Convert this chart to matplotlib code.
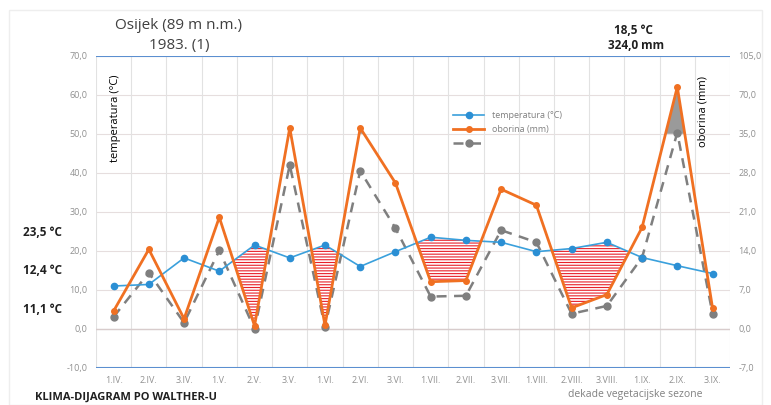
# Klima-dijagram po Walter-u, Osijek 1983. (dekade vegetacijske sezone)
import numpy as np
import matplotlib.pyplot as plt
from matplotlib.patches import Rectangle

plt.rcParams['font.family'] = ['Open Sans', 'DejaVu Sans']
plt.rcParams['hatch.color'] = '#e8202a'
plt.rcParams['hatch.linewidth'] = 0.8

# podaci ===============================================
dekade = ['1.IV.', '2.IV.', '3.IV.', '1.V.', '2.V.', '3.V.', '1.VI.', '2.VI.', '3.VI.',
          '1.VII.', '2.VII.', '3.VII.', '1.VIII.', '2.VIII.', '3.VIII.', '1.IX.', '2.IX.', '3.IX.']
temperatura = [11.0, 11.4, 18.2, 14.8, 21.5, 18.2, 21.5, 16.0, 19.8,
               23.5, 22.7, 22.2, 19.8, 20.6, 22.2, 18.3, 16.2, 14.2]
oborina = [4.6, 20.4, 2.6, 28.6, 0.8, 51.5, 0.9, 51.5, 37.4,
           12.1, 12.4, 35.8, 31.7, 5.4, 8.8, 26.0, 62.0, 5.4]
oborina2 = [3.1, 14.4, 1.6, 20.1, 0.0, 42.0, 0.5, 40.5, 25.8,
            8.3, 8.5, 25.3, 22.2, 3.9, 5.9, 18.3, 50.3, 3.9]

lijevo_ticks = [-10, 0, 10, 20, 30, 40, 50, 60, 70]
desno_labels = ['-7,0', '0,0', '7,0', '14,0', '21,0', '28,0', '35,0', '70,0', '105,0']

# graf =================================================
fig = plt.figure(figsize=(7.71, 4.05), dpi=100)
ax = fig.add_axes([0.1245, 0.0914, 0.8225, 0.771])
x = np.arange(len(dekade))

ax.set_xlim(-0.5, len(dekade) - 0.5)
ax.set_ylim(-10, 70)

# mreza
for yy in lijevo_ticks:
    ax.axhline(yy, color='#e6dede', lw=0.8, zorder=0)
for xx in np.arange(-0.5, len(dekade), 1):
    ax.axvline(xx, color='#e2e2e2', lw=0.8, zorder=0)
ax.axhline(0, color='#d8cccc', lw=1.0, zorder=0)
ax.axhline(70, color='#5b8fd0', lw=1.5, zorder=1)
ax.axhline(-10, color='#5b8fd0', lw=1.5, zorder=1)

# sušno razdoblje (crveno šrafirano)
xs = np.linspace(0, len(dekade) - 1, 1701)
ts = np.interp(xs, x, temperatura)
ps = np.interp(xs, x, oborina)
suho = (ts > ps) & (xs >= 3) & (xs <= 16)
ax.fill_between(xs, ps, ts, where=suho, facecolor='white', edgecolor='#e8202a',
                hatch='------', lw=0, zorder=2)

# perhumidno razdoblje (sivo)
ax.fill_between(xs, 50, ps, where=ps > 50, color='#9a9a9a', lw=0, zorder=2)

ax.plot(x, oborina2, color='#7f7f7f', ls=(0, (4, 3)), lw=1.8, marker='o', ms=5,
        zorder=3, label=' ')
ax.plot(x, temperatura, color='#3aa0dc', lw=1.2, marker='o', ms=4.5,
        markerfacecolor='#2b8fd4', markeredgecolor='#2b8fd4', zorder=4,
        label='temperatura (°C)')
ax.plot(x, oborina, color='#f07022', lw=2.0, marker='o', ms=4,
        zorder=5, label='oborina (mm)')

# osi
for s in ax.spines.values():
    s.set_visible(False)
ax.set_xticks(x)
ax.set_xticklabels(dekade, fontsize=6.5, color='#909090')
ax.set_yticks(lijevo_ticks)
ax.set_yticklabels([f'{v:.1f}'.replace('.', ',') for v in lijevo_ticks],
                   fontsize=6.5, color='#909090')
ax.tick_params(length=0, pad=6)

ax2 = ax.twinx()
ax2.set_ylim(-10, 70)
ax2.set_yticks(lijevo_ticks)
ax2.set_yticklabels(desno_labels, fontsize=6.5, color='#909090')
ax2.tick_params(length=0, pad=6)
for s in ax2.spines.values():
    s.set_visible(False)

h, l = ax.get_legend_handles_labels()
ax.legend([h[1], h[2], h[0]], [l[1], l[2], l[0]], loc='upper left',
          bbox_to_anchor=(0.55, 0.85), frameon=False, fontsize=6.5,
          labelcolor='#808080', handlelength=3.5, labelspacing=0.6)

ax.text(0.03, 0.94, 'temperatura (°C)', transform=ax.transAxes, rotation=90,
        ha='center', va='top', fontsize=8)
ax.text(0.957, 0.935, 'oborina (mm)', transform=ax.transAxes, rotation=90,
        ha='center', va='top', fontsize=8)

# tekstovi
fig.text(0.232, 0.937, 'Osijek (89 m n.m.)', ha='center', va='center', fontsize=11, color='#404040')
fig.text(0.232, 0.888, '1983. (1)', ha='center', va='center', fontsize=11, color='#404040')
fig.text(0.821, 0.925, '18,5 °C', ha='center', va='center', fontsize=8.5, fontweight='bold', color='#202020')
fig.text(0.825, 0.888, '324,0 mm', ha='center', va='center', fontsize=8.5, fontweight='bold', color='#202020')
fig.text(0.055, 0.425, '23,5 °C', ha='center', va='center', fontsize=8.5, fontweight='bold', color='#202020')
fig.text(0.055, 0.333, '12,4 °C', ha='center', va='center', fontsize=8.5, fontweight='bold', color='#202020')
fig.text(0.055, 0.235, '11,1 °C', ha='center', va='center', fontsize=8.5, fontweight='bold', color='#202020')
fig.text(0.045, 0.02, 'KLIMA-DIJAGRAM PO WALTHER-U', ha='left', va='center', fontsize=8,
         fontweight='bold', color='#202020')
fig.text(0.824, 0.025, 'dekade vegetacijske sezone', ha='center', va='center', fontsize=7.5,
         color='#808080')

fig.patches.append(Rectangle((0.012, 0.0), 0.976, 0.975, transform=fig.transFigure,
                             fill=False, ec='#eeeeee', lw=1.0))

fig.savefig('out.png', dpi=100)
